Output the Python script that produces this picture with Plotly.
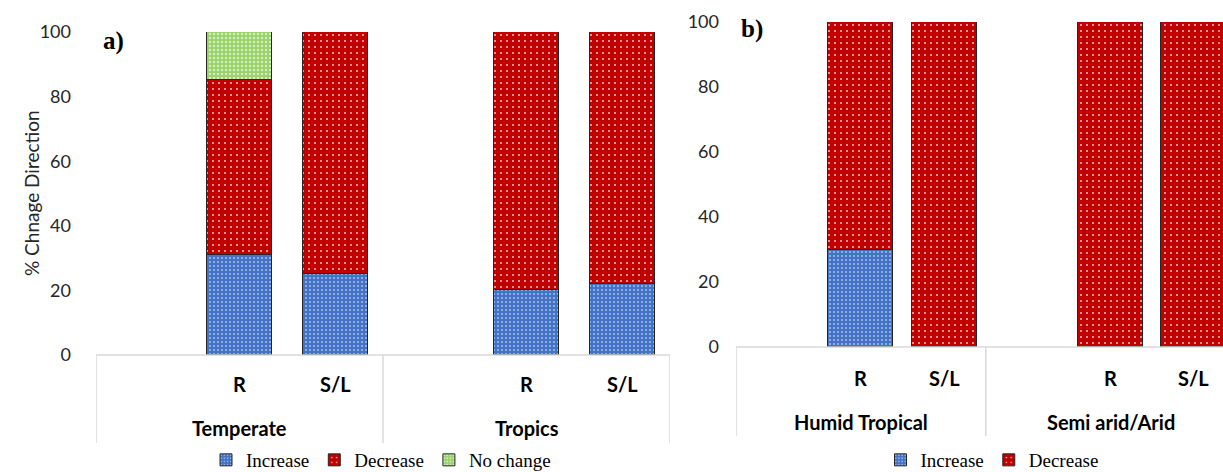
import plotly.graph_objects as go

# ---------------- data ----------------
cats = ["R", "S/L"]
groups_a = ["Temperate", "Tropics"]
inc_a = [31, 25, 20, 22]
dec_a = [54, 75, 80, 78]
noc_a = [15, None, None, None]

groups_b = ["Humid Tropical", "Semi arid/Arid"]
inc_b = [30, None, None, None]
dec_b = [70, 100, 100, 100]

yticks = [0, 20, 40, 60, 80, 100]
ytitle = "% Chnage Direction"

# ---------------- styling ----------------
BLUE, BLUE_FG = "#4472C4", "#A7C2EE"
RED, RED_FG = "#C00000", "#F4C4C4"
GREEN, GREEN_FG = "#9BD16B", "#D2EFBA"
OUTLINE = "#262626"
SANS = "Lato, Carlito, 'Noto Sans', sans-serif"
SERIF = "'Liberation Serif', 'DejaVu Serif', serif"

W, H = 1223, 472
def py(pix):
    return (H - pix) / H

def positions(groups):
    xs, labels = [], []
    for gi, _ in enumerate(groups):
        for ci, c in enumerate(cats):
            xs.append(gi * 3 + 1 + ci)
            labels.append(c)
    return xs, labels

PATS = {
    "Increase": dict(shape=".", bgcolor=BLUE, fgcolor=BLUE_FG, size=4, solidity=0.2, fillmode="replace"),
    "Decrease": dict(shape=".", bgcolor=RED, fgcolor=RED_FG, size=6, solidity=0.09, fillmode="replace"),
    "No change": dict(shape=".", bgcolor=GREEN, fgcolor=GREEN_FG, size=4, solidity=0.3, fillmode="replace"),
}
COLS = {"Increase": BLUE, "Decrease": RED, "No change": GREEN}

fig = go.Figure()

xa, la = positions(groups_a)
xb, lb = positions(groups_b)

series_a = [("Increase", inc_a), ("Decrease", dec_a), ("No change", noc_a)]
for name, vals in series_a:
    fig.add_trace(go.Bar(x=xa, y=vals, name=name, width=0.68, xaxis="x", yaxis="y",
                         marker=dict(color=COLS[name], pattern=PATS[name], line=dict(color=OUTLINE, width=1)),
                         legend="legend"))

series_b = [("Increase", inc_b), ("Decrease", dec_b)]
for name, vals in series_b:
    fig.add_trace(go.Bar(x=xb, y=vals, name=name, width=0.78, xaxis="x2", yaxis="y2",
                         marker=dict(color=COLS[name], pattern=PATS[name], line=dict(color=OUTLINE, width=1)),
                         legend="legend2"))

ann = []
shapes = []
GRID = "#D9D9D9"
LABFONT = dict(family=SANS, size=20, color="#000")

def cat_axis(xref, groups, xs, labels, y0pix, lab_pix, grp_pix, bottom_pix, right_end):
    for x, l in zip(xs, labels):
        ann.append(dict(x=x, y=py(lab_pix), xref=xref, yref="paper", text="<b>%s</b>" % l,
                        xanchor="center", yanchor="middle", showarrow=False, font=LABFONT))
    for gi, g in enumerate(groups):
        ann.append(dict(x=gi * 3 + 1, y=py(grp_pix), xref=xref, yref="paper", text="<b>%s</b>" % g,
                        xanchor="center", yanchor="middle", showarrow=False, font=LABFONT))
    shapes.append(dict(type="line", xref=xref, yref="paper", x0=-0.5, x1=right_end,
                       y0=py(y0pix), y1=py(y0pix), line=dict(color=GRID, width=1.5)))
    for gi in range(len(groups) + 1):
        xv = gi * 3 - 0.5
        shapes.append(dict(type="line", xref=xref, yref="paper", x0=xv, x1=xv,
                           y0=py(y0pix), y1=py(bottom_pix), line=dict(color=GRID, width=1.5)))

cat_axis("x", groups_a, xa, la, 355, 384, 428, 443, 5.5)
cat_axis("x2", groups_b, xb, lb, 347, 378, 422, 436, 5.5)

ann.append(dict(x=31 / W, y=py(193), xref="paper", yref="paper", text=ytitle, textangle=-90,
                xanchor="center", yanchor="middle",
                showarrow=False, font=dict(family=SANS, size=19, color="#262626")))
ann.append(dict(x=113 / W, y=py(41), xref="paper", yref="paper", text="<b>a)</b>",
                xanchor="center", yanchor="middle",
                showarrow=False, font=dict(family=SERIF, size=25, color="#000")))
ann.append(dict(x=752 / W, y=py(29), xref="paper", yref="paper", text="<b>b)</b>",
                xanchor="center", yanchor="middle",
                showarrow=False, font=dict(family=SERIF, size=25, color="#000")))

fig.update_layout(
    width=W, height=H, margin=dict(l=0, r=0, t=0, b=0, autoexpand=False),
    paper_bgcolor="white", plot_bgcolor="white",
    barmode="stack", bargap=0,
    xaxis=dict(domain=[96 / W, 670 / W], range=[-0.5, 5.5], showticklabels=False,
               showgrid=False, zeroline=False, showline=False, anchor="y"),
    yaxis=dict(domain=[py(355), py(32)], range=[0, 100], tickvals=yticks, showgrid=False,
               zeroline=False, showline=False, anchor="x", ticklabelstandoff=24, automargin=False,
               tickfont=dict(family=SANS, size=18, color="#262626")),
    xaxis2=dict(domain=[736 / W, 1.0], range=[-0.5, 5.35], showticklabels=False,
                showgrid=False, zeroline=False, showline=False, anchor="y2"),
    yaxis2=dict(domain=[py(347), py(22)], range=[0, 100], tickvals=yticks, showgrid=False,
                zeroline=False, showline=False, anchor="x2", ticklabelstandoff=16, automargin=False,
                tickfont=dict(family=SANS, size=18, color="#262626")),
    legend=dict(orientation="h", x=381 / W, xanchor="center", y=py(460), yanchor="middle",
                font=dict(family=SERIF, size=19, color="#000"), itemwidth=30,
                bgcolor="rgba(0,0,0,0)", traceorder="normal"),
    legend2=dict(orientation="h", x=992 / W, xanchor="center", y=py(460), yanchor="middle",
                 font=dict(family=SERIF, size=19, color="#000"), itemwidth=30,
                 bgcolor="rgba(0,0,0,0)", traceorder="normal"),
    annotations=ann, shapes=shapes, showlegend=True,
)

fig.write_html("out.html", config={"displayModeBar": False},
               post_script="document.body.style.margin='0';document.body.style.padding='0';")
